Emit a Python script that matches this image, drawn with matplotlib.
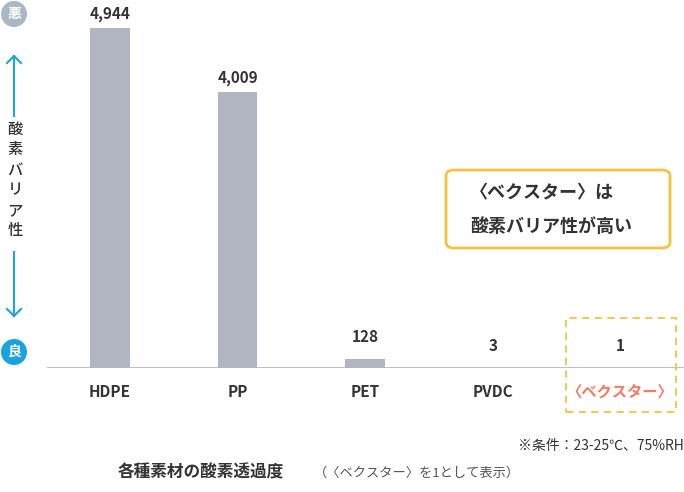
import matplotlib
matplotlib.use("Agg")
import matplotlib.pyplot as plt
from matplotlib.patches import FancyBboxPatch, Rectangle, Circle
from matplotlib.transforms import IdentityTransform

plt.rcParams['font.family'] = ['Noto Sans CJK JP', 'DejaVu Sans']

categories = ["HDPE", "PP", "PET", "PVDC", "〈ベクスター〉"]
values = [4944, 4009, 128, 3, 1]
labels = ["4,944", "4,009", "128", "3", "1"]

W, H = 684, 492
fig = plt.figure(figsize=(W/100, H/100), dpi=100)
ax = fig.add_axes([47/W, (H-368)/H, (684-47)/W, 368/H])
ymax = 4944*368/340
ax.set_ylim(0, ymax)
ax.set_xlim(-0.494, 4.5)
x = list(range(len(categories)))
ax.bar(x, values, width=0.31, color="#b0b5c1")
for xi, v, lab in zip(x, values, labels):
    off = 6 if v > 500 else 14
    ax.annotate(lab, (xi, v), xytext=(0, off), textcoords="offset pixels", ha="center", va="bottom",
                fontsize=11, fontweight="bold", color="#333333", annotation_clip=False)
for s in ax.spines.values():
    s.set_visible(False)
ax.set_yticks([])
ax.set_xticks([])
ax.axhline(0, color="#b0b5c1", lw=1.2)

def fy(py):
    return 1 - py/H
def fx(px):
    return px/W

for i, c in enumerate(categories):
    px = 110 + 127.5*i
    fig.text(fx(px), fy(392), c, ha="center", va="center", fontsize=11, fontweight="bold",
             color="#f07c63" if i == 4 else "#333333")

fig.patches.append(Rectangle((fx(566), fy(412)), (676-566)/W, (412-318)/H, transform=fig.transFigure,
                             fill=False, ls=(0, (4, 3)), ec="#f5c242", lw=1.3))
fig.patches.append(FancyBboxPatch((fx(446), fy(248)), (670-446)/W, (248-170)/H, transform=fig.transFigure,
                                  boxstyle="round,pad=0,rounding_size=0.012", fc="white", ec="#f5c242", lw=2))
fig.text(fx(470), fy(193), "〈ベクスター〉は", fontsize=13, fontweight="bold", color="#333333", va="center")
fig.text(fx(470), fy(226), "酸素バリア性が高い", fontsize=13, fontweight="bold", color="#333333", va="center")

# left axis (pixel coords, origin bottom-left)
fig.patches.append(Circle((14, H-14), 13, transform=IdentityTransform(), fc="#a9b8c4", ec="none"))
fig.patches.append(Circle((14, H-352), 13, transform=IdentityTransform(), fc="#1ba3df", ec="none"))
fig.text(fx(14), fy(14), "悪", ha="center", va="center", color="white", fontsize=10, fontweight="bold")
fig.text(fx(14), fy(352), "良", ha="center", va="center", color="white", fontsize=10, fontweight="bold")
fig.text(fx(15), fy(180), "酸\n素\nバ\nリ\nア\n性", ha="center", va="center", fontsize=11,
         fontweight="medium", color="#333333", linespacing=1.25)
fig.add_artist(plt.Line2D([fx(14), fx(14)], [fy(56), fy(116)], color="#1ba3df", lw=1.5))
fig.add_artist(plt.Line2D([fx(7), fx(14), fx(21)], [fy(63), fy(56), fy(63)], color="#1ba3df", lw=1.5))
fig.add_artist(plt.Line2D([fx(14), fx(14)], [fy(252), fy(316)], color="#1ba3df", lw=1.5))
fig.add_artist(plt.Line2D([fx(7), fx(14), fx(21)], [fy(309), fy(316), fy(309)], color="#1ba3df", lw=1.5))

fig.text(fx(684), fy(446), "※条件：23-25℃、75%RH", ha="right", va="center", fontsize=10, color="#333333")
fig.text(fx(118), fy(472), "各種素材の酸素透過度", ha="left", va="center", fontsize=12, fontweight="bold", color="#333333")
fig.text(fx(314), fy(473), "（〈ベクスター〉を1として表示）", ha="left", va="center", fontsize=9.5, color="#555555")

fig.savefig("out.png", dpi=100)
